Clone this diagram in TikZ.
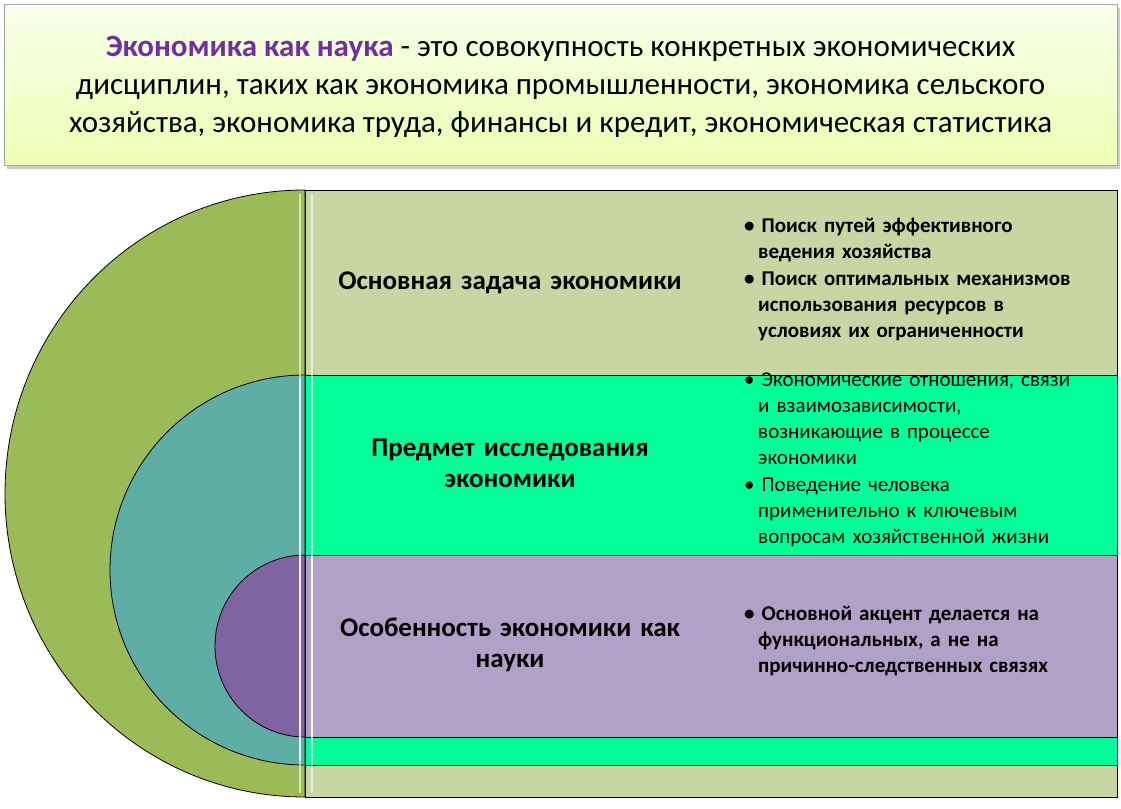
\documentclass[tikz,border=0pt]{standalone}
\usepackage{fontspec}
\setmainfont{Carlito}
\begin{document}
\begin{tikzpicture}[x=1pt,y=-1pt,
  bar/.style={draw=black,line width=0.8pt},
  head/.style={font=\bfseries\fontsize{27}{31}\selectfont,align=center,text width=400,inner sep=0},
  bl/.style={font=\bfseries\fontsize{21}{26}\selectfont,align=left,text width=375,inner sep=0,anchor=north west}]
\definecolor{olv}{HTML}{C7D6A3}\definecolor{grn}{HTML}{9BBB59}
\definecolor{tea}{HTML}{5EAEA6}\definecolor{mint}{HTML}{00FF99}
\definecolor{pur}{HTML}{8064A2}\definecolor{lpur}{HTML}{B2A1C7}
\definecolor{ttl}{HTML}{7030A0}
\useasboundingbox (0,0) rectangle (1121,808);
\fill[gray!40] (7,8) rectangle (1120,169);
\path[top color=green!3!white!95!yellow, bottom color=green!25!yellow!30!white, draw=gray!70] (4,4) rectangle (1117,165);
\node[font=\fontsize{31}{38}\selectfont,align=center] (t) at (560.5,87) {\textcolor{ttl}{\bfseries Экономика как наука} - это совокупность конкретных экономических\\дисциплин, таких как экономика промышленности, экономика сельского\\хозяйства, экономика труда, финансы и кредит, экономическая статистика};
% bands
\fill[bar,fill=olv] (305,190) rectangle (1117,797);
\fill[bar,fill=mint] (305,375) rectangle (1117,765);
\fill[bar,fill=lpur] (305,555) rectangle (1117,737);
% half ellipses
\filldraw[bar,fill=grn] (305,190) arc[start angle=-90,end angle=-270,x radius=300,y radius=303.5] -- cycle;
\filldraw[bar,fill=tea] (305,375) arc[start angle=-90,end angle=-270,x radius=195,y radius=195] -- cycle;
\filldraw[bar,fill=pur] (305,555) arc[start angle=-90,end angle=-270,x radius=90,y radius=91] -- cycle;
\foreach \a/\b in {190/797,375/765,555/737}{
  \draw[white,opacity=0.6,line width=2pt] (300,\a+4) -- (300,\b-4);
  \draw[white,opacity=0.6,line width=2pt] (312,\a+4) -- (312,\b-4);}
\node[head] (h1) at (510,283) {Основная задача экономики};
\node[head] (h2) at (510,463) {Предмет исследования\\экономики};
\node[head] (h3) at (510,645) {Особенность экономики как\\науки};
\node[bl] (b1) at (744,218) {\textbullet\ Поиск путей эффективного\\\hspace*{14pt}ведения хозяйства\\[1pt]\textbullet\ Поиск оптимальных механизмов\\\hspace*{14pt}использования ресурсов в\\\hspace*{14pt}условиях их ограниченности};
\node[bl,font=\fontsize{21}{26}\selectfont] (b2) at (744,373) {\textbullet\ Экономические отношения, связи\\\hspace*{14pt}и взаимозависимости,\\\hspace*{14pt}возникающие в процессе\\\hspace*{14pt}экономики\\[1pt]\textbullet\ Поведение человека\\\hspace*{14pt}применительно к ключевым\\\hspace*{14pt}вопросам хозяйственной жизни};
\node[bl] (b3) at (744,606) {\textbullet\ Основной акцент делается на\\\hspace*{14pt}функциональных, а не на\\\hspace*{14pt}причинно-следственных связях};
\end{tikzpicture}
\end{document}
